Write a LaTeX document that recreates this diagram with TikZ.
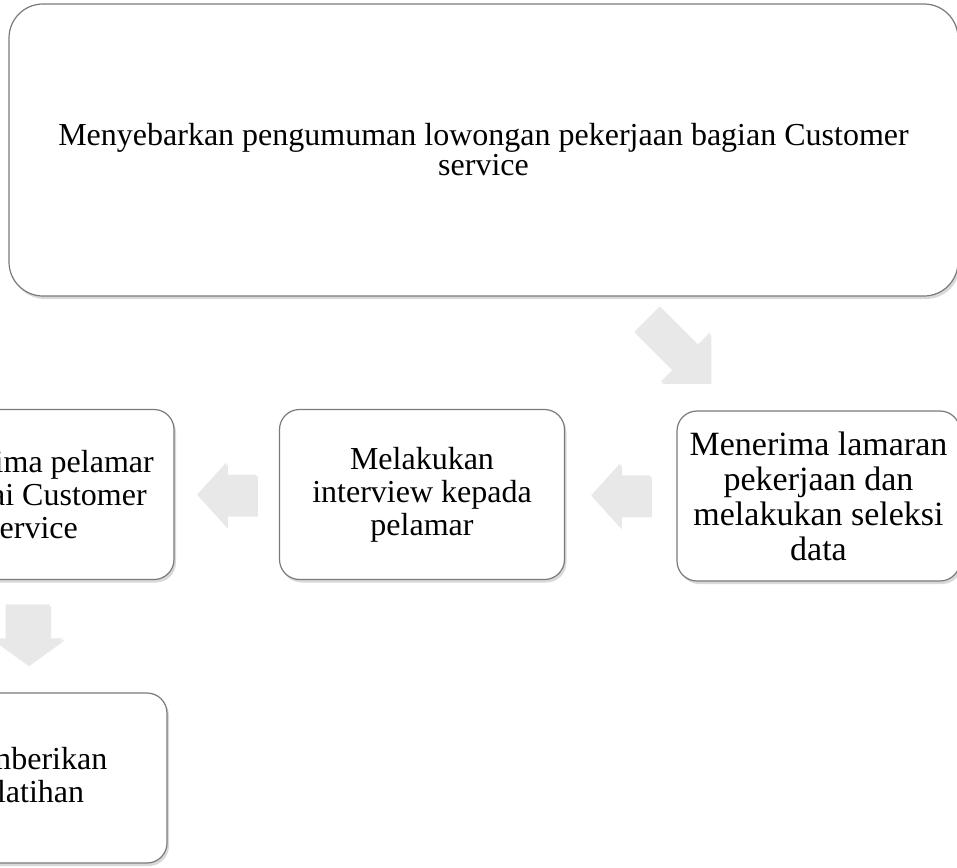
\documentclass[tikz,border=0pt]{standalone}
\usepackage{fontspec}
\setmainfont{Liberation Serif}
\usetikzlibrary{shadows,calc}
\newcommand{\blockarr}[6]{% center, angle, L, h, w, s
  \begin{scope}[shift={#1}, rotate=#2]
    \fill[arrowfill] (-#3/2,-#6) -- (#3/2-#4,-#6) -- (#3/2-#4,-#5) -- (#3/2,0)
      -- (#3/2-#4,#5) -- (#3/2-#4,#6) -- (-#3/2,#6) -- cycle;
  \end{scope}}
\begin{document}
\begin{tikzpicture}[x=1pt,y=-1pt,
  stepbox/.style={draw=black!52, line width=1.2pt, fill=white,
    rounded corners=20pt, align=center, inner sep=0pt,
    minimum width=283pt, minimum height=170pt,
    font=\fontsize{32}{33}\selectfont,
    drop shadow={shadow xshift=2pt, shadow yshift=-3pt, opacity=0.3}},
  arrowfill/.style={fill=black!9,
    drop shadow={shadow xshift=1.5pt, shadow yshift=-2pt, opacity=0.18}}]
\useasboundingbox (0,0) rectangle (957,867);
\clip (0,0) rectangle (957,867);
% boxes
\node[stepbox, minimum width=949pt, minimum height=292pt, rounded corners=34pt,
  font=\fontsize{32}{30}\selectfont] (top) at (483.5,150)
  {Menyebarkan pengumuman lowongan pekerjaan bagian Customer\\service};
\node[stepbox, font=\fontsize{34}{35}\selectfont] (recv) at (818.5,496)
  {Menerima lamaran\\pekerjaan dan\\melakukan seleksi\\data};
\node[stepbox, minimum width=285pt] (intv) at (422,494.5)
  {Melakukan\\interview kepada\\pelamar};
\node[stepbox] (acc) at (32.5,494.5)
  {Menerima pelamar\\sebagai Customer\\service};
\node[stepbox] (train) at (25.5,778)
  {Memberikan\\pelatihan};
% block arrows
\coordinate (d1) at (678.5,350.5);
\blockarr{(d1)}{-45}{89}{35}{35}{18}
\blockarr{($(recv.west)!0.5!(intv.east)$)}{180}{59}{29}{32}{20}
\blockarr{($(intv.west)!0.5!(acc.east)$)}{180}{59}{29}{32}{20}
\blockarr{($(acc.south)!0.5!(train.north)+(-1.5,-2)$)}{-90}{60}{26}{36}{22}
\end{tikzpicture}
\end{document}
